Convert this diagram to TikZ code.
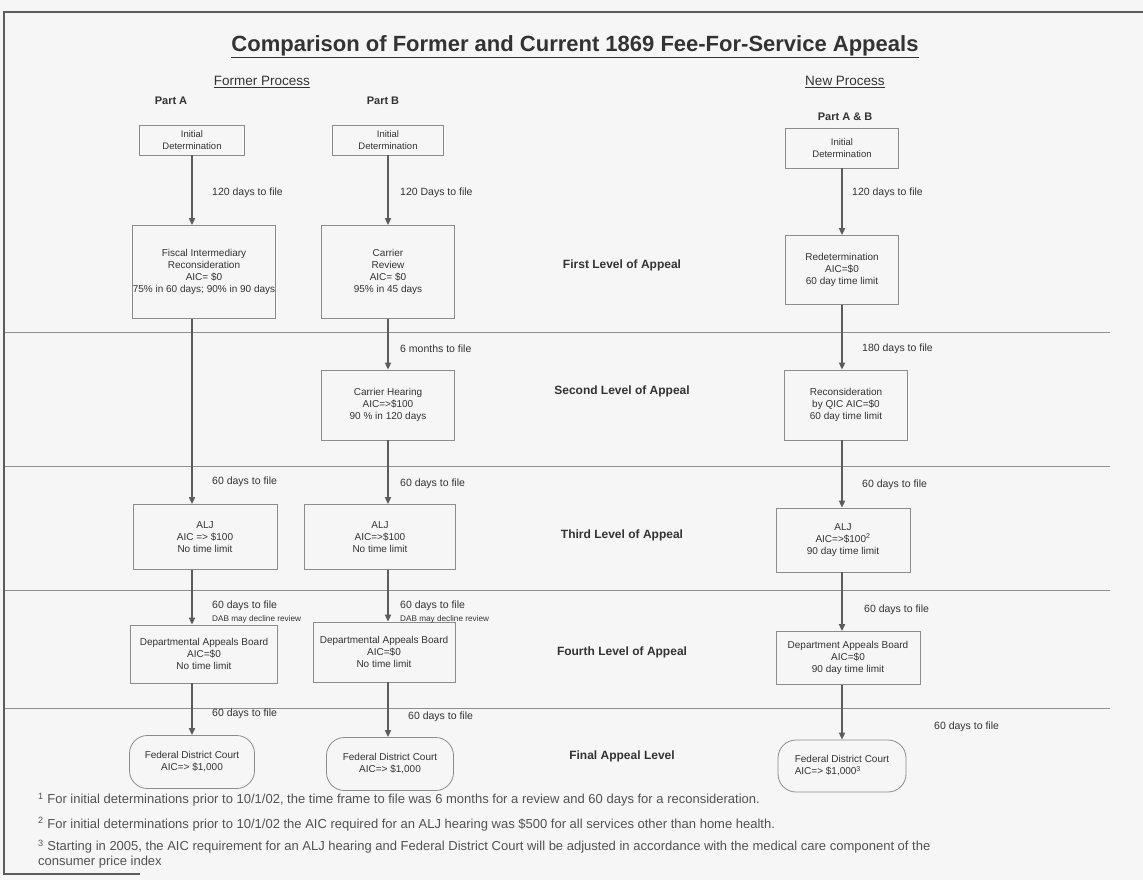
\documentclass[tikz,border=0pt]{standalone}
\usepackage{fontspec}
\setmainfont{Liberation Sans}
\usetikzlibrary{arrows.meta,positioning}
\definecolor{inkgray}{HTML}{333333}
\definecolor{boxgray}{HTML}{8C8C8C}
\definecolor{arrowgray}{HTML}{5C5C5C}
\definecolor{rulegray}{HTML}{8F8F8F}
\definecolor{papergray}{HTML}{F6F6F6}
\tikzset{
  stepbox/.style={draw=boxgray,line width=0.8pt,text=inkgray,align=center,
    font=\fontsize{10}{12}\selectfont,inner sep=2pt},
  startbox/.style={stepbox,font=\fontsize{9.5}{11.5}\selectfont},
  courtbox/.style={stepbox,rounded corners=18pt},
  flow/.style={-{Triangle[length=7pt,width=6pt]},line width=2.6pt,draw=arrowgray},
  filetext/.style={anchor=west,inner sep=0pt,text=inkgray,font=\fontsize{10.5}{12}\selectfont},
  dabtext/.style={anchor=west,inner sep=0pt,text=inkgray,font=\fontsize{8.2}{9}\selectfont},
  levelname/.style={text=inkgray,font=\bfseries\fontsize{12}{14}\selectfont},
  partname/.style={text=inkgray,font=\bfseries\fontsize{11}{13}\selectfont},
  processname/.style={text=inkgray,font=\fontsize{13.5}{16}\selectfont},
  footnote/.style={anchor=west,align=left,inner sep=0pt,text=inkgray!85,
    font=\fontsize{13}{14.5}\selectfont},
  levelrule/.style={draw=rulegray,line width=0.8pt}
}

\begin{document}
\begin{tikzpicture}[x=1pt,y=-1pt]
  \fill[papergray] (0,0) rectangle (1143,880);
  \useasboundingbox (0,0) rectangle (1143,880);
  % frame and level rules
  \draw[draw=arrowgray,line width=1.6pt] (1143,12) -- (4,12) -- (4,874) -- (140,874);
  \foreach \y in {332,466,590,708}
    \draw[levelrule] (5,\y) -- (1110,\y);

  % headings
  \node[text=inkgray,font=\bfseries\fontsize{22}{26}\selectfont] (title) at (575,47)
    {\underline{Comparison of Former and Current 1869 Fee-For-Service Appeals}};
  \node[processname] (former) at (262,82) {\underline{Former Process}};
  \node[processname] (new) at (845,82) {\underline{New Process}};
  \node[partname] (partA) at (171,101) {Part A};
  \node[partname] (partB) at (383,101) {Part B};
  \node[partname] (partAB) at (845,117) {Part A \& B};

  % level names
  \node[levelname] (level1) at (622,265) {First Level of Appeal};
  \node[levelname] (level2) at (622,391) {Second Level of Appeal};
  \node[levelname] (level3) at (622,535) {Third Level of Appeal};
  \node[levelname] (level4) at (622,652) {Fourth Level of Appeal};
  \node[levelname] (level5) at (622,756) {Final Appeal Level};

  % Part A
  \node[startbox,minimum width=105,minimum height=30] (initA) at (192,140)
    {Initial\\Determination};
  \node[stepbox,minimum width=142,minimum height=93,inner xsep=0pt] (fiA) at (204,272)
    {Fiscal Intermediary\\Reconsideration\\AIC= \$0\\75\% in 60 days; 90\% in 90 days};
  \node[stepbox,minimum width=144,minimum height=65] (aljA) at (205,537)
    {ALJ\\AIC => \$100\\No time limit};
  \node[stepbox,minimum width=147,minimum height=58] (dabA) at (204,654)
    {Departmental Appeals Board\\AIC=\$0\\No time limit};
  \node[courtbox,minimum width=125,minimum height=53] (fedA) at (192,762)
    {Federal District Court\\AIC=> \$1,000};

  % Part B
  \node[startbox,minimum width=111,minimum height=30] (initB) at (388,140)
    {Initial\\Determination};
  \node[stepbox,minimum width=133,minimum height=93] (revB) at (388,272)
    {Carrier\\Review\\AIC= \$0\\95\% in 45 days};
  \node[stepbox,minimum width=133,minimum height=70] (hearB) at (388,405)
    {Carrier Hearing\\AIC=>\$100\\90 \% in 120 days};
  \node[stepbox,minimum width=151,minimum height=65] (aljB) at (380,537)
    {ALJ\\AIC=>\$100\\No time limit};
  \node[stepbox,minimum width=142,minimum height=60] (dabB) at (384,652)
    {Departmental Appeals Board\\AIC=\$0\\No time limit};
  \node[courtbox,minimum width=127,minimum height=53] (fedB) at (390,764)
    {Federal District Court\\AIC=> \$1,000};

  % Part A & B
  \node[startbox,minimum width=113,minimum height=40] (initN) at (842,148)
    {Initial\\Determination};
  \node[stepbox,minimum width=113,minimum height=69] (redN) at (842,270)
    {Redetermination\\AIC=\$0\\60 day time limit};
  \node[stepbox,minimum width=123,minimum height=70] (reconN) at (846,405)
    {Reconsideration\\by QIC AIC=\$0\\60 day time limit};
  \node[stepbox,minimum width=134,minimum height=64] (aljN) at (843,540)
    {ALJ\\AIC=>\$100\textsuperscript{2}\\90 day time limit};
  \node[stepbox,minimum width=144,minimum height=53] (dabN) at (848,658)
    {Department Appeals Board\\AIC=\$0\\90 day time limit};
  \node[courtbox,minimum width=128,minimum height=52,align=left] (fedN) at (842,766)
    {Federal District Court\\AIC=> \$1,000\textsuperscript{3}};

  % arrows
  \draw[flow] (initA.south) -- (initA.south |- fiA.north);
  \draw[flow] (initA.south |- fiA.south) -- (initA.south |- aljA.north);
  \draw[flow] (initA.south |- aljA.south) -- (initA.south |- dabA.north);
  \draw[flow] (initA.south |- dabA.south) -- (fedA.north);
  \draw[flow] (initB.south) -- (revB.north);
  \draw[flow] (revB.south) -- (hearB.north);
  \draw[flow] (hearB.south) -- (hearB.south |- aljB.north);
  \draw[flow] (hearB.south |- aljB.south) -- (hearB.south |- dabB.north);
  \draw[flow] (hearB.south |- dabB.south) -- (hearB.south |- fedB.north);
  \draw[flow] (initN.south) -- (redN.north);
  \draw[flow] (redN.south) -- (redN.south |- reconN.north);
  \draw[flow] (redN.south |- reconN.south) -- (redN.south |- aljN.north);
  \draw[flow] (redN.south |- aljN.south) -- (redN.south |- dabN.north);
  \draw[flow] (redN.south |- dabN.south) -- (redN.south |- fedN.north);

  % time to file
  \node[filetext] (fileA1) at (212,193) {120 days to file};
  \node[filetext] (fileA2) at (212,482) {60 days to file};
  \node[filetext] (fileA3) at (212,606) {60 days to file};
  \node[dabtext] (dabnoteA) at (212,619) {DAB may decline review};
  \node[filetext] (fileA4) at (212,714) {60 days to file};
  \node[filetext] (fileB1) at (400,193) {120 Days to file};
  \node[filetext] (fileB2) at (400,349) {6 months to file};
  \node[filetext] (fileB3) at (400,484) {60 days to file};
  \node[filetext] (fileB4) at (400,606) {60 days to file};
  \node[dabtext] (dabnoteB) at (400,619) {DAB may decline review};
  \node[filetext] (fileB5) at (408,717) {60 days to file};
  \node[filetext] (fileN1) at (852,193) {120 days to file};
  \node[filetext] (fileN2) at (862,349) {180 days to file};
  \node[filetext] (fileN3) at (862,485) {60 days to file};
  \node[filetext] (fileN4) at (864,610) {60 days to file};
  \node[filetext] (fileN5) at (934,727) {60 days to file};

  % footnotes
  \node[footnote] (note1) at (38,800) {\textsuperscript{1} For initial determinations prior to 10/1/02, the time frame to file was 6 months for a review and 60 days for a reconsideration.};
  \node[footnote] (note2) at (38,824) {\textsuperscript{2} For initial determinations prior to 10/1/02 the AIC required for an ALJ hearing was \$500 for all services other than home health.};
  \node[footnote,anchor=north west] (note3) at (38,840) {\textsuperscript{3} Starting in 2005, the AIC requirement for an ALJ hearing and Federal District Court will be adjusted in accordance with the medical care component of the\\consumer price index};
\end{tikzpicture}
\end{document}
